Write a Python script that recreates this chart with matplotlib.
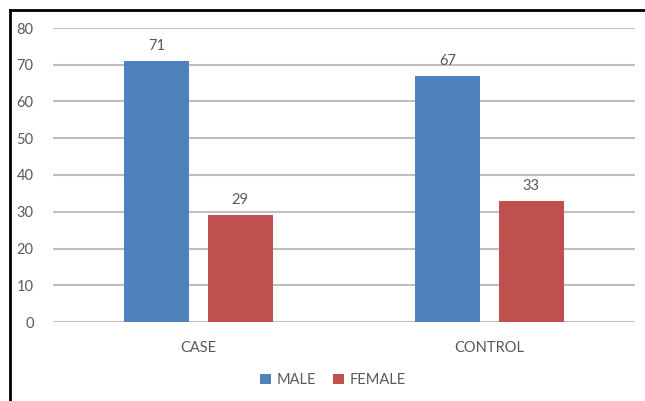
import numpy as np
import matplotlib.pyplot as plt
from matplotlib.lines import Line2D

categories = ['CASE', 'CONTROL']
male = [71, 67]
female = [29, 33]
series_names = ['MALE', 'FEMALE']
yticks = [0, 10, 20, 30, 40, 50, 60, 70, 80]

blue = '#4F81BD'
red = '#C0504D'
grey_text = '#595959'
grid_col = '#BFBFBF'

plt.rcParams['font.family'] = ['Lato', 'DejaVu Sans']

fig = plt.figure(figsize=(6.45, 4.01), dpi=100)
ax = fig.add_axes([53 / 645, 1 - 322 / 401, (635 - 53) / 645, (322 - 28) / 401])

x = np.arange(len(categories))
w = 0.223
off = 0.143
b1 = ax.bar(x - off, male, w, color=blue, label=series_names[0], zorder=3)
b2 = ax.bar(x + off, female, w, color=red, label=series_names[1], zorder=3)

for bars in (b1, b2):
    for r in bars:
        ax.text(r.get_x() + r.get_width() / 2, r.get_height() + 2.2, str(int(r.get_height())),
                ha='center', va='bottom', fontsize=10.5, color=grey_text)

ax.set_xlim(-0.5, 1.5)
ax.set_ylim(0, 80)
ax.set_yticks(yticks)
ax.set_xticks(x)
ax.set_xticklabels(categories)
ax.grid(axis='y', color=grid_col, linewidth=1.5, zorder=0)
ax.set_axisbelow(True)
for s in ax.spines.values():
    s.set_visible(False)
ax.tick_params(axis='both', length=0, labelsize=10.5, labelcolor=grey_text)
ax.tick_params(axis='y', pad=14)
ax.tick_params(axis='x', pad=14)

fig.legend(handles=[b1, b2], labels=series_names, loc='center', bbox_to_anchor=(333 / 645, 1 - 380 / 401),
           ncol=2, frameon=False, fontsize=10.5, labelcolor=grey_text, handlelength=0.7, handleheight=0.7,
           handletextpad=0.4, columnspacing=1.2)

# outer frame (left and top edges)
fig.add_artist(Line2D([10 / 645, 10 / 645], [0, 1 - 10 / 401], color='black', linewidth=2, transform=fig.transFigure))
fig.add_artist(Line2D([10 / 645, 1], [1 - 10 / 401, 1 - 10 / 401], color='black', linewidth=2, transform=fig.transFigure))

fig.savefig('out.png', dpi=100)
